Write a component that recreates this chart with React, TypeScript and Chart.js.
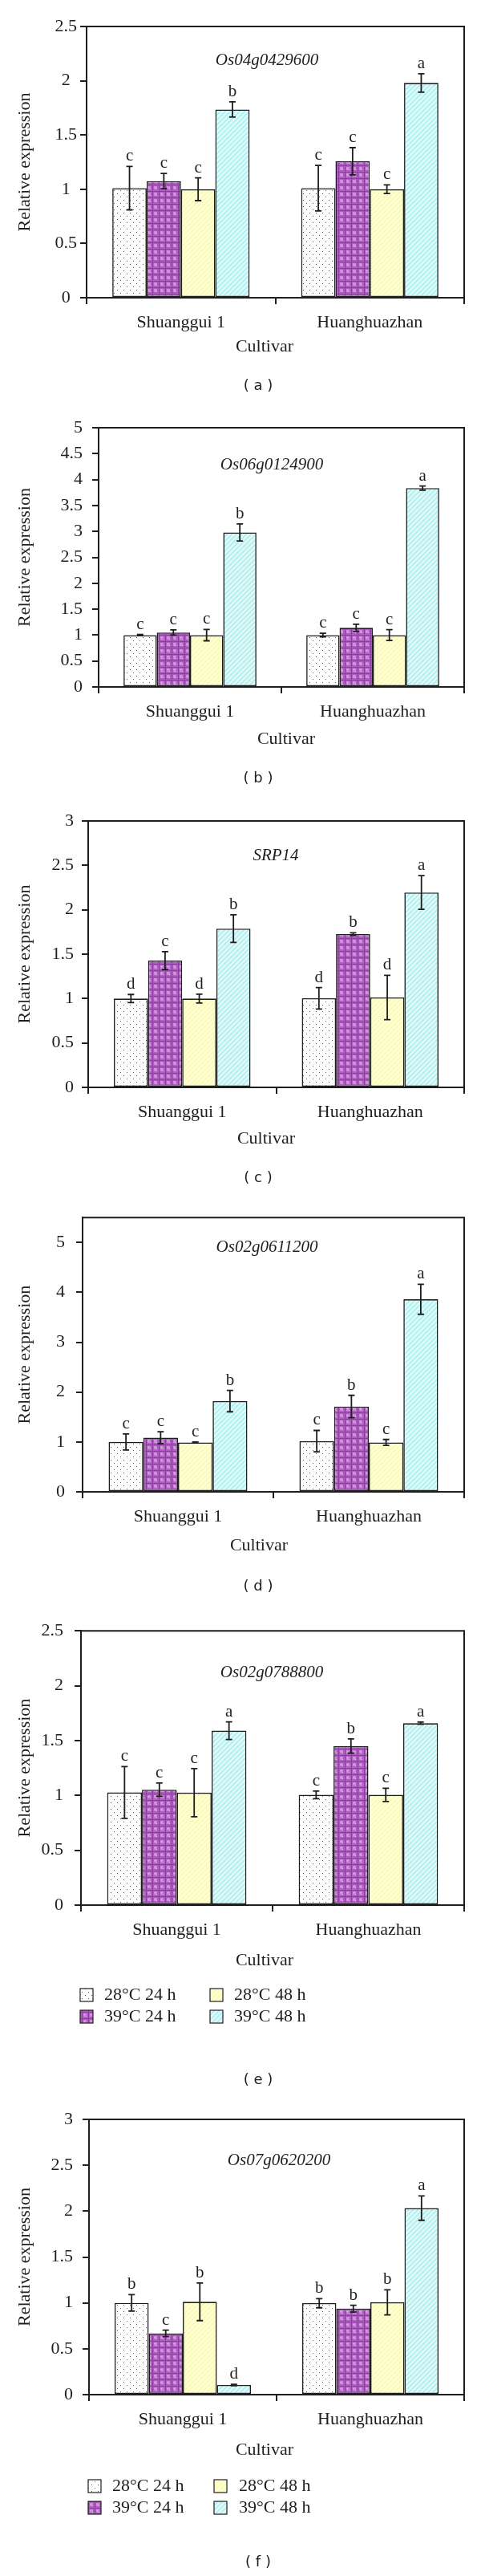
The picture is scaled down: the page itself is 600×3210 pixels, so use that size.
import React, { useEffect, useRef } from 'react';
import { Chart, registerables } from 'chart.js';

Chart.register(...registerables);

// ---------------- data ----------------
const cultivars = ['Shuanggui 1', 'Huanghuazhan'];
const treatments = ['28°C 24 h', '39°C 24 h', '28°C 48 h', '39°C 48 h'];

// [cultivar][treatment]
const meanA = [[1.01, 1.075, 1.0, 1.735], [1.01, 1.258, 1.0, 1.98]];
const errA = [[0.2, 0.07, 0.105, 0.07], [0.21, 0.125, 0.04, 0.085]];
const letA = [['c', 'c', 'c', 'b'], ['c', 'c', 'c', 'a']];

const meanB = [[1.0, 1.05, 1.0, 2.98], [1.0, 1.14, 1.0, 3.835]];
const errB = [[0.01, 0.05, 0.11, 0.165], [0.035, 0.07, 0.105, 0.04]];
const letB = [['c', 'c', 'c', 'b'], ['c', 'c', 'c', 'a']];

const meanC = [[1.0, 1.428, 1.0, 1.788], [1.003, 1.726, 1.012, 2.194]];
const errC = [[0.046, 0.1, 0.05, 0.155], [0.12, 0.015, 0.25, 0.19]];
const letC = [['d', 'c', 'd', 'b'], ['d', 'b', 'd', 'a']];

const meanD = [[1.0, 1.086, 0.99, 1.82], [1.016, 1.71, 0.99, 3.86]];
const errD = [[0.16, 0.12, 0.01, 0.215], [0.215, 0.225, 0.06, 0.3]];
const letD = [['c', 'c', 'c', 'b'], ['c', 'b', 'c', 'a']];

const meanE = [[1.027, 1.052, 1.025, 1.59], [1.005, 1.45, 1.005, 1.658]];
const errE = [[0.236, 0.06, 0.22, 0.08], [0.035, 0.065, 0.06, 0.01]];
const letE = [['c', 'c', 'c', 'a'], ['c', 'b', 'c', 'a']];

const meanF = [[1.0, 0.668, 1.012, 0.105], [0.997, 0.937, 1.006, 2.033]];
const errF = [[0.09, 0.035, 0.205, 0.008], [0.05, 0.038, 0.137, 0.133]];
const letF = [['b', 'c', 'b', 'd'], ['b', 'b', 'b', 'a']];

const genes = ['Os04g0429600', 'Os06g0124900', 'SRP14', 'Os02g0611200', 'Os02g0788800', 'Os07g0620200'];
const captions = ['( a )', '( b )', '( c )', '( d )', '( e )', '( f )'];
const yMax = [2.5, 5, 3, 5.5, 2.5, 3];
const yStep = [0.5, 0.5, 0.5, 1, 0.5, 0.5];
const yTitle = 'Relative expression';
const xTitle = 'Cultivar';

// ---------------- layout (page px) ----------------
type Layout = {
  top: number; height: number; plotTop: number; zeroY: number; plotLeft: number;
  geneX: number; geneY: number; cultX: number; cultY: number; capY: number;
  align: 'near' | 'center'; tickPad: number;
  legendRows?: number[]; legendBoxX?: number[]; legendTextX?: number[];
};

const layouts: Layout[] = [
  { top: 0, height: 505, plotTop: 33, zeroY: 371, plotLeft: 108, geneX: 333, geneY: 75, cultX: 330, cultY: 432, capY: 481, align: 'center', tickPad: 4 },
  { top: 505, height: 490, plotTop: 533, zeroY: 856, plotLeft: 123, geneX: 339, geneY: 579, cultX: 357, cultY: 921, capY: 970, align: 'near', tickPad: 12 },
  { top: 995, height: 495, plotTop: 1023, zeroY: 1355, plotLeft: 110, geneX: 344, geneY: 1066, cultX: 332, cultY: 1419, capY: 1468, align: 'near', tickPad: 10 },
  { top: 1490, height: 515, plotTop: 1507, zeroY: 1859, plotLeft: 103, geneX: 333, geneY: 1554, cultX: 323, cultY: 1926, capY: 1977, align: 'near', tickPad: 14 },
  { top: 2005, height: 610, plotTop: 2031, zeroY: 2374, plotLeft: 101, geneX: 339, geneY: 2084, cultX: 330, cultY: 2443, capY: 2592, align: 'near', tickPad: 14,
    legendRows: [2486, 2513], legendBoxX: [100, 262], legendTextX: [130, 292] },
  { top: 2615, height: 595, plotTop: 2641, zeroY: 2984, plotLeft: 111, geneX: 348, geneY: 2692, cultX: 330, cultY: 3053, capY: 3193, align: 'near', tickPad: 12,
    legendRows: [3098, 3125], legendBoxX: [110, 267], legendTextX: [140, 298] },
];

const means = [meanA, meanB, meanC, meanD, meanE, meanF];
const errs = [errA, errB, errC, errD, errE, errF];
const lets = [letA, letB, letC, letD, letE, letF];

const SERIF = '"Liberation Serif", "DejaVu Serif", serif';
const SANS = '"DejaVu Sans", sans-serif';
const INK = '#1e1e1e';
const PLOT_RIGHT = 579;
const X_AXIS_H = 44;
const CAP = 4;
const FONT = 22;

function tile(w: number, h: number, draw: (g: CanvasRenderingContext2D) => void) {
  const c = document.createElement('canvas');
  c.width = w; c.height = h;
  const g = c.getContext('2d')!;
  draw(g);
  return c;
}

function diag(g: CanvasRenderingContext2D, s: number) {
  g.beginPath();
  for (let k = -s; k <= 2 * s; k += s) {
    g.moveTo(k - s, s + s); g.lineTo(k + s + s, -s);
  }
  g.stroke();
}

function makePatterns(ctx: CanvasRenderingContext2D): (CanvasPattern | string)[] {
  const dots = tile(8, 8, g => {
    g.fillStyle = '#ffffff'; g.fillRect(0, 0, 8, 8);
    g.fillStyle = '#555555'; g.fillRect(2, 1, 1, 1); g.fillRect(6, 5, 1, 1);
  });
  const plaid = tile(8, 8, g => {
    g.fillStyle = '#ad5ebf'; g.fillRect(0, 0, 8, 8);
    g.fillStyle = '#c88ad5'; g.fillRect(0, 0, 4, 4);
    g.fillStyle = '#e6c4ec';
    [[1, 1], [3, 3]].forEach(([x, y]) => g.fillRect(x, y, 1, 1));
    g.fillStyle = '#8d3ea0'; g.fillRect(6, 0, 1, 8); g.fillRect(0, 6, 8, 1);
  });
  const yellow = tile(6, 6, g => {
    g.fillStyle = '#ffffcc'; g.fillRect(0, 0, 6, 6);
    g.strokeStyle = '#f1f1b8'; g.lineWidth = 1; diag(g, 6);
  });
  const cyan = tile(6, 6, g => {
    g.fillStyle = '#e2fcfc'; g.fillRect(0, 0, 6, 6);
    g.strokeStyle = '#b4efef'; g.lineWidth = 2; diag(g, 6);
  });
  return [dots, plaid, yellow, cyan].map(c => ctx.createPattern(c, 'repeat') || '#fff');
}

function fmt(v: number | string) {
  return String(Number(Number(v).toFixed(2)));
}

function PanelChart({ idx }: { idx: number }) {
  const ref = useRef<HTMLCanvasElement>(null);
  const L = layouts[idx];
  useEffect(() => {
    const canvas = ref.current!;
    const ctx0 = canvas.getContext('2d')!;
    const patterns = makePatterns(ctx0);
    const mean = means[idx], err = errs[idx], letters = lets[idx];
    const off = L.top;

    const decor = {
      id: 'decor' + idx,
      afterDatasetsDraw(chart: any) {
        const ctx = chart.ctx as CanvasRenderingContext2D;
        const ys = chart.scales.y;
        ctx.save();
        ctx.strokeStyle = INK; ctx.fillStyle = INK; ctx.lineWidth = 1.8;
        ctx.font = `21px ${SERIF}`; ctx.textAlign = 'center'; ctx.textBaseline = 'alphabetic';
        treatments.forEach((_, i) => {
          const meta = chart.getDatasetMeta(i);
          meta.data.forEach((bar: any, c: number) => {
            const v = mean[c][i], e = err[c][i];
            const x = bar.x;
            const yt = ys.getPixelForValue(v + e), yb = ys.getPixelForValue(v - e);
            ctx.beginPath();
            ctx.moveTo(x, yt); ctx.lineTo(x, yb);
            ctx.moveTo(x - CAP, yt); ctx.lineTo(x + CAP, yt);
            ctx.moveTo(x - CAP, yb); ctx.lineTo(x + CAP, yb);
            ctx.stroke();
            ctx.fillText(letters[c][i], x, yt - 7);
          });
        });
        ctx.restore();
      },
      afterDraw(chart: any) {
        const ctx = chart.ctx as CanvasRenderingContext2D;
        const a = chart.chartArea;
        ctx.save();
        ctx.strokeStyle = INK; ctx.lineWidth = 2;
        ctx.beginPath();
        ctx.moveTo(a.left, a.top); ctx.lineTo(a.right, a.top); ctx.lineTo(a.right, a.bottom);
        ctx.stroke();
        ctx.fillStyle = INK;
        // gene title
        ctx.font = `italic 21px ${SERIF}`; ctx.textAlign = 'center'; ctx.textBaseline = 'middle';
        ctx.fillText(genes[idx], L.geneX, L.geneY - off);
        // y title
        ctx.font = `${FONT}px ${SERIF}`;
        ctx.save();
        ctx.translate(31, (a.top + a.bottom) / 2);
        ctx.rotate(-Math.PI / 2);
        ctx.fillText(yTitle, 0, 0);
        ctx.restore();
        // x title
        ctx.fillText(xTitle, L.cultX, L.cultY - off);
        // legend
        if (L.legendRows && L.legendBoxX && L.legendTextX) {
          treatments.forEach((t, i) => {
            const col = Math.floor(i / 2), row = i % 2;
            const cy = L.legendRows![row] - off;
            const bx = L.legendBoxX![col];
            ctx.fillStyle = patterns[i] as any;
            ctx.fillRect(bx, cy - 8, 16, 16);
            ctx.strokeStyle = INK; ctx.lineWidth = 1.2;
            ctx.strokeRect(bx, cy - 8, 16, 16);
            ctx.fillStyle = INK; ctx.textAlign = 'left';
            ctx.fillText(t, L.legendTextX![col], cy);
          });
        }
        // caption
        ctx.font = `18px ${SANS}`; ctx.textAlign = 'center'; ctx.fillStyle = INK;
        ctx.fillText(captions[idx], 322, L.capY - off);
        ctx.restore();
      },
    };

    const chart = new Chart(canvas, {
      type: 'bar',
      data: {
        labels: cultivars,
        datasets: treatments.map((t, i) => ({
          label: t,
          data: cultivars.map((_, c) => mean[c][i]),
          backgroundColor: patterns[i] as any,
          borderColor: INK,
          borderWidth: 1.6,
          borderSkipped: false,
          categoryPercentage: 0.727,
          barPercentage: 1.0,
        })),
      },
      options: {
        animation: false,
        responsive: false,
        devicePixelRatio: 1,
        layout: {
          padding: {
            left: 0,
            right: 600 - PLOT_RIGHT,
            top: L.plotTop - L.top,
            bottom: L.height - (L.zeroY - L.top) - X_AXIS_H,
          },
        },
        plugins: { legend: { display: false }, tooltip: { enabled: false }, title: { display: false } },
        scales: {
          x: {
            grid: { offset: true, drawOnChartArea: false, drawTicks: true, tickLength: 8, color: INK, lineWidth: 2 },
            border: { display: true, color: INK, width: 2 },
            ticks: { font: { family: SERIF, size: FONT }, color: INK, padding: 10, maxRotation: 0 },
            afterFit: (s: any) => { s.height = X_AXIS_H; },
          },
          y: {
            min: 0,
            max: yMax[idx],
            grid: { drawOnChartArea: false, drawTicks: true, tickLength: 8, color: INK, lineWidth: 2 },
            border: { display: true, color: INK, width: 2 },
            ticks: {
              stepSize: yStep[idx],
              includeBounds: false,
              font: { family: SERIF, size: FONT },
              color: INK,
              padding: L.tickPad,
              crossAlign: L.align,
              callback: (v: number | string) => fmt(v),
            },
            afterFit: (s: any) => { s.width = L.plotLeft; },
          },
        },
      } as any,
      plugins: [decor],
    });
    return () => chart.destroy();
  }, [idx]);

  return (
    <canvas
      ref={ref}
      width={600}
      height={L.height}
      style={{ position: 'absolute', left: 0, top: L.top, width: 600, height: L.height, display: 'block' }}
    />
  );
}

export default function App() {
  return (
    <div style={{ position: 'absolute', left: 0, top: 0, width: 600, height: 3210, background: '#ffffff', overflow: 'hidden' }}>
      {layouts.map((_, i) => <PanelChart key={i} idx={i} />)}
    </div>
  );
}
